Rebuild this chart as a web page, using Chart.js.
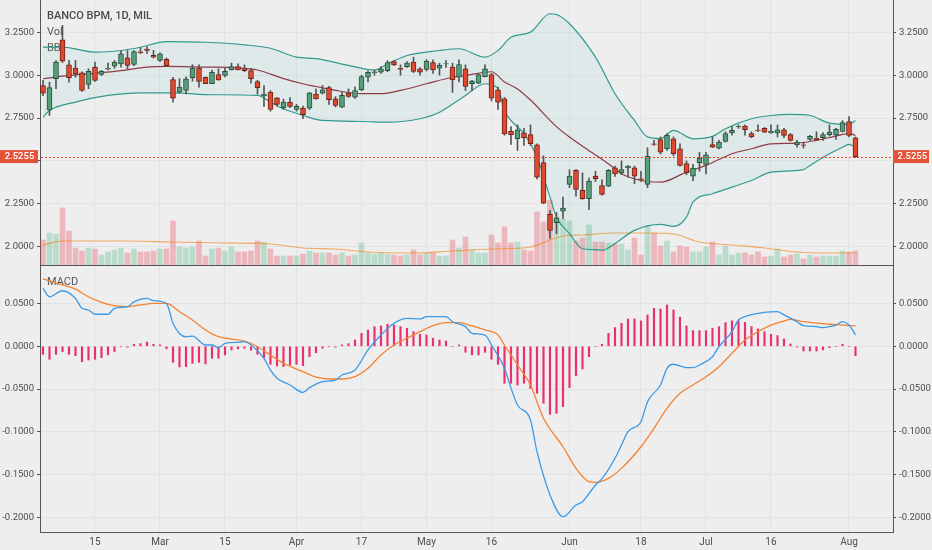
<!DOCTYPE html>
<html><head><meta charset="utf-8">
<script src="https://cdn.jsdelivr.net/npm/chart.js@4.4.0/dist/chart.umd.min.js"></script>
<style>
html,body{margin:0;padding:0;background:#eeeeef;}
#wrap{position:relative;width:932px;height:550px;overflow:hidden;background:#eeeeef;}
#w1{position:absolute;left:0;top:0;width:932px;height:266px;}
#w2{position:absolute;left:0;top:266px;width:932px;height:284px;}
</style></head><body>
<div id="wrap"><div id="w1"><canvas id="c1" width="932" height="266"></canvas></div><div id="w2"><canvas id="c2" width="932" height="284"></canvas></div></div>
<script>
// ---- x axis tick labels (bar index of each labelled trading day) ----
const tickIdx = [8,18,28,39,49,59,69,81,92,102,112,124];
const tickLab = ['15','Mar','15','Apr','17','May','16','Jun','18','Jul','16','Aug'];

// ---- daily OHLC, BANCO BPM (MIL), 5 Feb - 2 Aug ----
const open = [2.94,2.798,2.979,3.206,3.061,3.041,3.014,2.946,3.047,3.004,
3.035,3.052,3.066,3.101,3.062,3.136,3.152,3.115,3.086,3.092,
2.975,2.901,2.911,2.985,3.041,2.988,2.95,3.004,2.998,3.031,
3.05,3.037,3.027,2.963,2.88,2.901,2.868,2.81,2.843,2.8,
2.808,2.808,2.89,2.895,2.927,2.862,2.813,2.895,2.872,2.915,
2.988,3.015,3.017,3.027,3.08,3.04,3.05,3.076,3.037,3.033,
3.074,3.041,3.065,3.047,2.988,3.037,2.95,2.953,2.992,3.004,
2.915,2.862,2.672,2.63,2.664,2.653,2.594,2.49,2.188,2.14,
2.207,2.363,2.445,2.328,2.28,2.411,2.357,2.353,2.46,2.43,
2.46,2.46,2.395,2.363,2.6,2.624,2.571,2.629,2.571,2.484,
2.411,2.49,2.48,2.595,2.575,2.614,2.664,2.7,2.703,2.659,
2.68,2.69,2.664,2.664,2.682,2.653,2.594,2.594,2.625,2.633,
2.635,2.653,2.65,2.672,2.73,2.635];
const high = [2.97,2.959,3.085,3.29,3.086,3.086,3.02,3.037,3.076,3.027,
3.07,3.085,3.144,3.144,3.144,3.16,3.165,3.145,3.13,3.1,
2.988,2.98,2.99,3.061,3.06,2.99,3.03,3.037,3.04,3.07,
3.066,3.06,3.04,2.97,2.94,2.91,2.87,2.86,2.87,2.83,
2.82,2.9,2.92,2.94,2.935,2.875,2.9,2.92,2.93,3.0,
3.025,3.03,3.05,3.085,3.085,3.06,3.08,3.105,3.045,3.09,
3.09,3.07,3.085,3.07,3.09,3.06,2.97,3.01,3.06,3.01,
2.93,2.87,2.70,2.71,2.69,2.71,2.6,2.53,2.21,2.2,
2.29,2.449,2.45,2.43,2.4,2.44,2.39,2.45,2.47,2.5,
2.475,2.47,2.44,2.577,2.62,2.64,2.659,2.64,2.6,2.5,
2.48,2.55,2.55,2.64,2.62,2.67,2.7,2.71,2.71,2.67,
2.71,2.695,2.71,2.71,2.69,2.66,2.62,2.61,2.65,2.67,
2.665,2.71,2.69,2.735,2.759,2.64];
const low = [2.88,2.765,2.922,3.074,2.959,2.988,2.905,2.921,2.963,2.998,
3.03,3.04,3.047,3.037,3.056,3.125,3.127,3.1,3.08,3.05,
2.843,2.895,2.89,2.965,2.93,2.95,2.95,2.97,2.99,3.03,
3.03,3.02,2.953,2.89,2.818,2.79,2.82,2.8,2.81,2.79,
2.746,2.8,2.86,2.89,2.83,2.815,2.81,2.87,2.865,2.91,
2.96,3.0,3.01,3.02,3.055,3.0,3.045,3.015,3.0,3.025,
3.01,3.0,3.045,2.9,2.96,2.91,2.91,2.95,2.99,2.85,
2.8,2.65,2.596,2.561,2.59,2.59,2.395,2.25,2.048,2.076,
2.165,2.344,2.295,2.276,2.216,2.38,2.3,2.35,2.41,2.42,
2.405,2.367,2.38,2.344,2.59,2.54,2.561,2.53,2.47,2.42,
2.385,2.44,2.425,2.578,2.57,2.61,2.65,2.69,2.65,2.635,
2.67,2.665,2.66,2.64,2.635,2.615,2.58,2.575,2.62,2.62,
2.62,2.645,2.625,2.668,2.64,2.52];
const close = [2.895,2.927,3.076,3.082,2.985,3.008,2.911,3.023,2.969,3.022,
3.042,3.076,3.125,3.057,3.138,3.131,3.144,3.105,3.125,3.056,
2.866,2.93,2.979,3.041,2.963,2.95,3.017,2.973,3.023,3.05,
3.031,3.027,2.979,2.927,2.89,2.8,2.829,2.843,2.818,2.818,
2.77,2.897,2.862,2.915,2.857,2.823,2.882,2.876,2.91,2.992,
3.017,3.02,3.037,3.074,3.06,3.033,3.07,3.022,3.017,3.082,
3.031,3.057,3.068,2.973,3.062,2.934,2.965,3.004,3.037,2.866,
2.843,2.658,2.653,2.682,2.635,2.6,2.406,2.254,2.095,2.169,
2.225,2.411,2.334,2.28,2.382,2.396,2.305,2.445,2.425,2.45,
2.47,2.411,2.39,2.528,2.596,2.551,2.649,2.542,2.474,2.431,
2.458,2.516,2.536,2.58,2.61,2.659,2.678,2.702,2.682,2.64,
2.677,2.668,2.672,2.682,2.649,2.62,2.61,2.59,2.643,2.624,
2.654,2.668,2.684,2.723,2.649,2.5255];

// ---- volume (millions) ----
const volume = [25,32,31,57,34,17,14,17,16,10,
13,15,17,12,16,13,13,14,16,16,
44,18,17,18,24,9,16,17,14,18,
13,13,14,24,23,16,9,9,9,9,
11,14,12,12,12,10,12,9,10,22,
12,11,12,11,10,9,10,15,10,12,
12,9,9,25,17,28,15,12,12,30,
22,38,22,23,15,14,53,43,65,48,
46,44,24,27,40,23,23,22,21,21,
15,27,10,39,32,19,24,13,19,18,
13,13,18,23,10,19,10,12,12,10,
13,8,9,16,8,10,11,6,10,8,
9,9,9,14,13,14];
const volMaIdx = [0,3,8,13,20,28,35,40,45,50,57,63,69,75,78,80,83,88,93,97,101,106,111,116,121,125];
const volMaVal = [20,24,24,24,23,22,21,17,16,13,12,14,16,18,25,29,30,32,32,31,23,20,17,13,12,12];

// ---- Bollinger bands (read at sampled bars) ----
const bbUpIdx = [0,3,8,12,15,19,25,31,35,39,42,47,51,53,56,61,64,68,70,72,75,78,79,81,85,88,91,93,95,97,100,103,105,109,112,115,118,121,124,125];
const bbUpVal = [3.163,3.163,3.134,3.144,3.163,3.196,3.192,3.177,3.157,3.105,3.096,3.057,3.03,3.066,3.115,3.144,3.154,3.105,3.144,3.221,3.251,3.358,3.354,3.3,3.105,2.892,2.736,2.64,2.63,2.678,2.629,2.643,2.688,2.746,2.765,2.771,2.765,2.72,2.713,2.736];
const bbMidIdx = [0,3,7,12,16,19,25,30,33,37,40,42,45,49,52,55,59,63,65,69,71,73,75,79,81,84,86,88,89,92,95,99,102,106,109,112,116,119,122,124,125];
const bbMidVal = [2.979,2.994,3.008,3.027,3.047,3.051,3.047,3.043,3.03,2.98,2.95,2.934,2.911,2.892,2.892,2.911,2.95,2.988,2.998,3.02,2.96,2.92,2.855,2.70,2.639,2.56,2.51,2.455,2.425,2.386,2.376,2.435,2.474,2.542,2.571,2.6,2.604,2.62,2.645,2.659,2.649];
const bbLowIdx = [0,1,5,10,15,20,26,33,35,37,40,43,49,53,58,61,65,68,70,71,74,76,78,79,81,83,85,86,88,91,95,97,99,100,103,106,109,112,117,118,121,123,124,125];
const bbLowVal = [2.755,2.794,2.843,2.882,2.897,2.897,2.886,2.882,2.843,2.804,2.765,2.736,2.73,2.726,2.746,2.784,2.882,2.95,2.921,2.794,2.659,2.522,2.289,2.172,2.076,1.988,1.983,1.979,2.018,2.095,2.13,2.118,2.172,2.26,2.309,2.347,2.386,2.435,2.449,2.474,2.542,2.58,2.596,2.58];

// ---- MACD ----
const macdIdx = [0,1,3,5,6,7,8,10,11,13,14,16,17,19,20,21,22,23,25,26,27,28,30,31,32,34,35,36,38,40,41,43,45,46,48,50,52,54,56,58,59,62,63,65,66,68,69,71,72,73,75,76,78,80,82,83,85,86,88,89,90,92,93,95,96,97,99,100,101,103,104,106,107,108,110,111,113,114,116,117,119,120,121,122,123,124,125];
const macdVal = [0.068,0.058,0.065,0.056,0.0445,0.0425,0.0375,0.0375,0.0445,0.0464,0.052,0.056,0.0534,0.05,0.027,0.015,0.011,0.012,0.0015,0.0015,-0.0016,0.0035,0.0047,0.0054,0.0015,-0.014,-0.028,-0.0375,-0.0453,-0.054,-0.0485,-0.0414,-0.0395,-0.0336,-0.0278,-0.0043,0.0132,0.027,0.0328,0.032,0.0347,0.0347,0.0288,0.023,0.0152,0.0132,0.0015,-0.0258,-0.049,-0.0687,-0.0863,-0.1234,-0.174,-0.1995,-0.1858,-0.182,-0.1624,-0.155,-0.1311,-0.1156,-0.1,-0.0883,-0.0649,-0.0453,-0.0258,-0.021,-0.025,-0.025,-0.0219,-0.0122,-0.0005,0.0171,0.0308,0.0347,0.0386,0.0398,0.0405,0.0367,0.0288,0.0241,0.023,0.0218,0.023,0.0249,0.0288,0.0249,0.0132];
const sigIdx = [0,3,5,7,9,11,13,15,17,19,21,23,25,27,29,31,33,35,37,40,42,44,46,48,50,52,54,56,58,60,62,64,66,68,70,71,73,75,77,80,82,84,85,87,89,92,94,96,98,100,102,104,106,108,110,112,114,115,117,121,123,125];
const sigVal = [0.0788,0.0718,0.067,0.058,0.0515,0.0476,0.0464,0.0484,0.0503,0.0503,0.0405,0.0308,0.0191,0.0112,0.0085,0.0062,-0.0005,-0.0102,-0.0199,-0.0297,-0.0362,-0.0383,-0.0383,-0.0356,-0.0258,-0.0102,0.0015,0.0094,0.0171,0.0241,0.0276,0.0276,0.0238,0.0191,0.0132,0.0015,-0.0219,-0.0453,-0.0843,-0.1176,-0.1429,-0.1585,-0.1593,-0.1546,-0.1429,-0.1176,-0.096,-0.0726,-0.055,-0.0453,-0.0356,-0.0239,-0.0082,0.0074,0.0171,0.0249,0.0296,0.0316,0.0288,0.0258,0.0249,0.0238];
const hist = [-0.0094,-0.0152,-0.0094,-0.0062,-0.0094,-0.011,-0.018,-0.016,-0.0152,-0.0133,
-0.0101,-0.0062,0,-0.001,0.0023,0.003,0.005,0.0023,0.0016,-0.003,
-0.0187,-0.0242,-0.0238,-0.02,-0.0187,-0.0207,-0.014,-0.014,-0.0101,-0.0043,
-0.003,-0.0023,-0.0047,-0.0094,-0.0133,-0.0211,-0.023,-0.0238,-0.0219,-0.0211,
-0.0226,-0.0121,-0.0075,-0.0023,0,-0.001,0.0016,0.003,0.0074,0.0152,
0.019,0.023,0.0238,0.0258,0.025,0.023,0.0211,0.0172,0.014,0.0133,
0.0094,0.0074,0.0062,0,0.0016,-0.007,-0.0101,-0.0101,-0.007,-0.0152,
-0.0211,-0.0433,-0.0433,-0.0453,-0.0433,-0.0492,-0.055,-0.0667,-0.0796,-0.0785,
-0.0706,-0.0484,-0.0343,-0.0265,-0.0121,0,0.0023,0.0152,0.0219,0.0269,
0.032,0.032,0.0297,0.0367,0.0445,0.0437,0.0484,0.0425,0.034,0.0238,
0.0183,0.0183,0.0183,0.0211,0.023,0.0277,0.0297,0.0297,0.0281,0.023,
0.0203,0.0172,0.014,0.0125,0.0086,0.0027,-0.001,-0.0055,-0.0055,-0.0055,
-0.0043,-0.0016,0,0.0023,0,-0.011];

const priceTicks = [2.0,2.25,2.5,2.75,3.0,3.25];
const macdTicks = [-0.2,-0.15,-0.1,-0.05,0,0.05];

// ---- styling ----
const FONT = 'Roboto, "Liberation Sans", Arial, sans-serif';
const gridColor = '#e3e3e5';
const axisColor = '#555555';
const labelColor = '#4d4d4d';
const upFill = '#53a07a', upBorder = '#2c4e3c';
const dnFill = '#e0482f', dnBorder = '#6e2216';
const priceColor = '#e3533a';
const X_MIN = -0.46, X_MAX = 130.77;

const pts = (idx, val) => idx.map((x, k) => ({x: x, y: val[k]}));
const isUp = i => close[i] >= open[i];
const setTicks = arr => (s) => { s.ticks = arr.map(v => ({value: v})); };
const noPad = s => { s.paddingTop = 0; s.paddingBottom = 0; s.paddingLeft = 0; s.paddingRight = 0; };

const xCommon = () => ({
  type: 'linear', min: X_MIN, max: X_MAX, offset: false,
  afterBuildTicks: setTicks(tickIdx),
  grid: {color: gridColor, offset: false, drawTicks: false},
  border: {color: axisColor, width: 1}
});

const yAxis = (pos, min, max, ticks, fmt, width, gridOn) => ({
  position: pos, min: min, max: max, beginAtZero: false,
  afterBuildTicks: setTicks(ticks),
  afterFit: s => { s.width = width; noPad(s); },
  ticks: {callback: fmt, color: labelColor, font: {family: FONT, size: 9.5}, padding: 3, autoSkip: false},
  grid: {color: gridColor, drawOnChartArea: gridOn, tickLength: 3, tickColor: axisColor},
  border: {color: axisColor, width: 1}
});

const priceFmt = v => Math.abs(v - 2.5) < 1e-9 ? '' : v.toFixed(4);
const macdFmt = v => v.toFixed(4);
const idxs = close.map((_, i) => i);

// ---- top panel: candles + BB + volume ----
const decorTop = {
  id: 'decorTop',
  beforeDatasetsDraw(chart) {
    const ctx = chart.ctx;
    ctx.save();
    ctx.fillStyle = '#4a4a4a'; ctx.textBaseline = 'middle'; ctx.textAlign = 'left';
    ctx.font = '500 11px ' + FONT; ctx.fillText('BANCO BPM, 1D, MIL', 47, 16);
    ctx.font = '11px ' + FONT; ctx.fillStyle = '#555';
    ctx.fillText('Vol', 47, 32); ctx.fillText('BB', 47, 48);
    ctx.restore();
  },
  afterDatasetsDraw(chart) {
    const ctx = chart.ctx, a = chart.chartArea;
    const y = Math.round(chart.scales.yL.getPixelForValue(close[close.length - 1]));
    ctx.save();
    ctx.fillStyle = '#ee4324';
    for (let x = a.left + 1; x < a.right; x += 4) ctx.fillRect(x, y, 2, 1);
    ctx.restore();
  },
  afterDraw(chart) {
    const ctx = chart.ctx;
    const last = close[close.length - 1];
    const y = chart.scales.yL.getPixelForValue(last);
    ctx.save();
    ctx.fillStyle = priceColor;
    ctx.fillRect(0, y - 6.5, 38, 13);
    ctx.fillRect(893, y - 6.5, 36, 13);
    ctx.fillStyle = '#ffffff'; ctx.font = '500 9.5px ' + FONT; ctx.textBaseline = 'middle';
    ctx.textAlign = 'center'; ctx.fillText(last.toFixed(4), 19.5, y + 0.5);
    ctx.textAlign = 'left'; ctx.fillText(last.toFixed(4), 897.5, y + 0.5);
    ctx.restore();
  }
};

new Chart(document.getElementById('c1'), {
  type: 'bar',
  data: {
    datasets: [
      { type: 'bar', label: 'wick', data: idxs.map(i => ({x: i, y: [low[i], high[i]]})),
        yAxisID: 'yL', backgroundColor: '#555', borderWidth: 0, barThickness: 1, grouped: false, order: 1 },
      { type: 'bar', label: 'body', data: idxs.map(i => ({x: i, y: [open[i], close[i]]})),
        yAxisID: 'yL', backgroundColor: c => isUp(c.dataIndex) ? upFill : dnFill,
        borderColor: c => isUp(c.dataIndex) ? upBorder : dnBorder,
        borderWidth: 1, borderSkipped: false, barThickness: 5, grouped: false, order: 0 },
      { type: 'line', label: 'BB upper', data: pts(bbUpIdx, bbUpVal), yAxisID: 'yL',
        borderColor: '#2f9a8e', borderWidth: 1.2, pointRadius: 0, cubicInterpolationMode: 'monotone', fill: false, order: 6 },
      { type: 'line', label: 'BB basis', data: pts(bbMidIdx, bbMidVal), yAxisID: 'yL',
        borderColor: '#8e3b46', borderWidth: 1.2, pointRadius: 0, cubicInterpolationMode: 'monotone', fill: false, order: 6 },
      { type: 'line', label: 'BB lower', data: pts(bbLowIdx, bbLowVal), yAxisID: 'yL',
        borderColor: '#2f9a8e', borderWidth: 1.2, pointRadius: 0, cubicInterpolationMode: 'monotone',
        fill: 2, backgroundColor: 'rgba(38,166,154,0.07)', order: 6 },
      { type: 'bar', label: 'Vol', data: idxs.map(i => ({x: i, y: volume[i]})), yAxisID: 'vol',
        backgroundColor: c => isUp(c.dataIndex) ? 'rgba(83,185,135,0.33)' : 'rgba(235,77,92,0.33)',
        borderWidth: 0, barThickness: 5, grouped: false, order: 9 },
      { type: 'line', label: 'Vol MA', data: pts(volMaIdx, volMaVal), yAxisID: 'vol',
        borderColor: 'rgba(245,124,0,0.6)', borderWidth: 1.2, pointRadius: 0, cubicInterpolationMode: 'monotone', fill: false, order: 8 }
    ]
  },
  options: {
    responsive: false, animation: false, events: [],
    layout: {padding: 0},
    plugins: {legend: {display: false}, tooltip: {enabled: false}},
    scales: {
      x: Object.assign(xCommon(), {ticks: {display: false}, afterFit: s => { s.height = 1; noPad(s); }}),
      yL: yAxis('left', 1.8933, 3.4383, priceTicks, priceFmt, 40, true),
      yR: yAxis('right', 1.8933, 3.4383, priceTicks, priceFmt, 39, false),
      vol: {axis: 'y', display: false, min: 0, max: 265}
    }
  },
  plugins: [decorTop]
});

// ---- bottom panel: MACD ----
const decorBottom = {
  id: 'decorBottom',
  beforeDatasetsDraw(chart) {
    const ctx = chart.ctx;
    ctx.save();
    ctx.fillStyle = '#555'; ctx.font = '11px ' + FONT; ctx.textBaseline = 'middle'; ctx.textAlign = 'left';
    ctx.fillText('MACD', 47, 16);
    ctx.restore();
  }
};

new Chart(document.getElementById('c2'), {
  type: 'bar',
  data: {
    datasets: [
      { type: 'bar', label: 'Histogram', data: idxs.map(i => ({x: i, y: hist[i]})), yAxisID: 'yL',
        backgroundColor: '#e8306f', borderWidth: 0, barThickness: 1.5, grouped: false, order: 3 },
      { type: 'line', label: 'MACD', data: pts(macdIdx, macdVal), yAxisID: 'yL',
        borderColor: '#3a9ae8', borderWidth: 1.3, pointRadius: 0, cubicInterpolationMode: 'monotone', fill: false, order: 1 },
      { type: 'line', label: 'Signal', data: pts(sigIdx, sigVal), yAxisID: 'yL',
        borderColor: '#f5822e', borderWidth: 1.3, pointRadius: 0, cubicInterpolationMode: 'monotone', fill: false, order: 2 }
    ]
  },
  options: {
    responsive: false, animation: false, events: [],
    layout: {padding: 0},
    plugins: {legend: {display: false}, tooltip: {enabled: false}},
    scales: {
      x: Object.assign(xCommon(), {
        afterFit: s => { s.height = 18; noPad(s); },
        ticks: {autoSkip: false, maxRotation: 0, padding: 4, color: labelColor, font: {family: FONT, size: 10},
          callback: v => { const k = tickIdx.indexOf(v); return k >= 0 ? tickLab[k] : ''; }}
      }),
      yL: yAxis('left', -0.2174, 0.094, macdTicks, macdFmt, 40, true),
      yR: yAxis('right', -0.2174, 0.094, macdTicks, macdFmt, 39, false)
    }
  },
  plugins: [decorBottom]
});
</script>
</body></html>
